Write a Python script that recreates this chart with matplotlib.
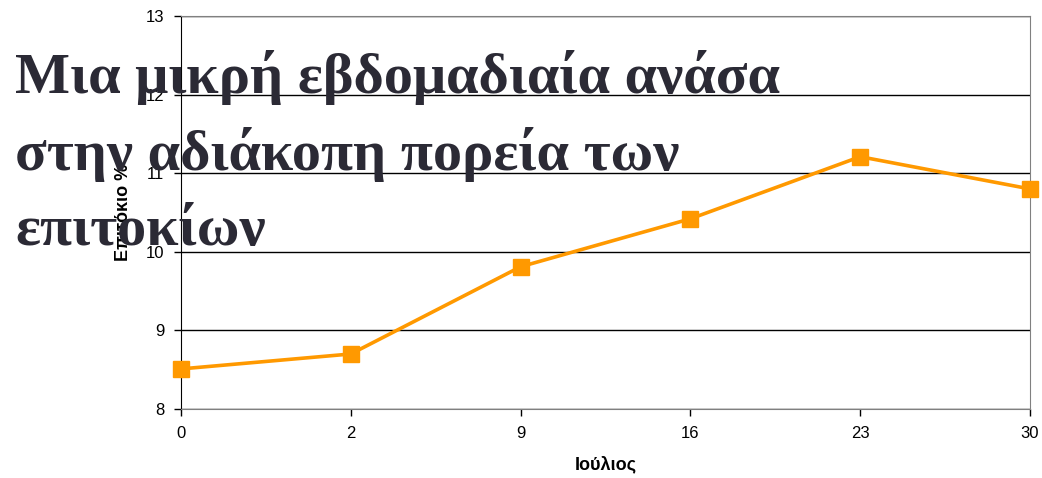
import matplotlib.pyplot as plt

# data
days = ['0', '2', '9', '16', '23', '30']
rates = [8.51, 8.70, 9.81, 10.42, 11.21, 10.80]

title_lines = ['Μια μικρή εβδομαδιαία ανάσα', 'στην αδιάκοπη πορεία των', 'επιτοκίων']

plt.rcParams['font.family'] = ['Liberation Sans', 'DejaVu Sans']

fig = plt.figure(figsize=(10.42, 4.78), dpi=100)
ax = fig.add_axes([181 / 1042, 1 - 409 / 478, (1030 - 181) / 1042, (409 - 16) / 478])

x = range(len(days))
ax.plot(x, rates, color='#FF9900', lw=2.6, marker='s', ms=11, zorder=3, clip_on=False)

ax.set_xlim(0, len(days) - 1)
ax.set_ylim(8, 13)
ax.set_xticks(list(x))
ax.set_xticklabels(days)
ax.set_yticks(range(8, 14))
ax.yaxis.grid(True, color='black', lw=1)
ax.set_axisbelow(True)

for side in ['top', 'right']:
    ax.spines[side].set_color('#808080')
ax.spines['left'].set_color('black')
ax.spines['bottom'].set_color('#808080')
ax.tick_params(axis='both', direction='out', length=5, width=1, labelsize=12, pad=7)

ax.set_ylabel('Επιτόκιο %', fontsize=13, fontweight='bold', labelpad=10)
ax.set_xlabel('Ιούλιος', fontsize=13, fontweight='bold', labelpad=11)

# big title drawn over the plot, one line at a time
baselines = [93, 170, 245]
for line, yb in zip(title_lines, baselines):
    fig.text(15 / 1042, 1 - yb / 478, line, family=['Liberation Serif', 'DejaVu Serif'],
             fontsize=42, fontweight='bold', color='#2b2a35', va='baseline', ha='left',
             zorder=10)

fig.savefig('out.png', dpi=100)
